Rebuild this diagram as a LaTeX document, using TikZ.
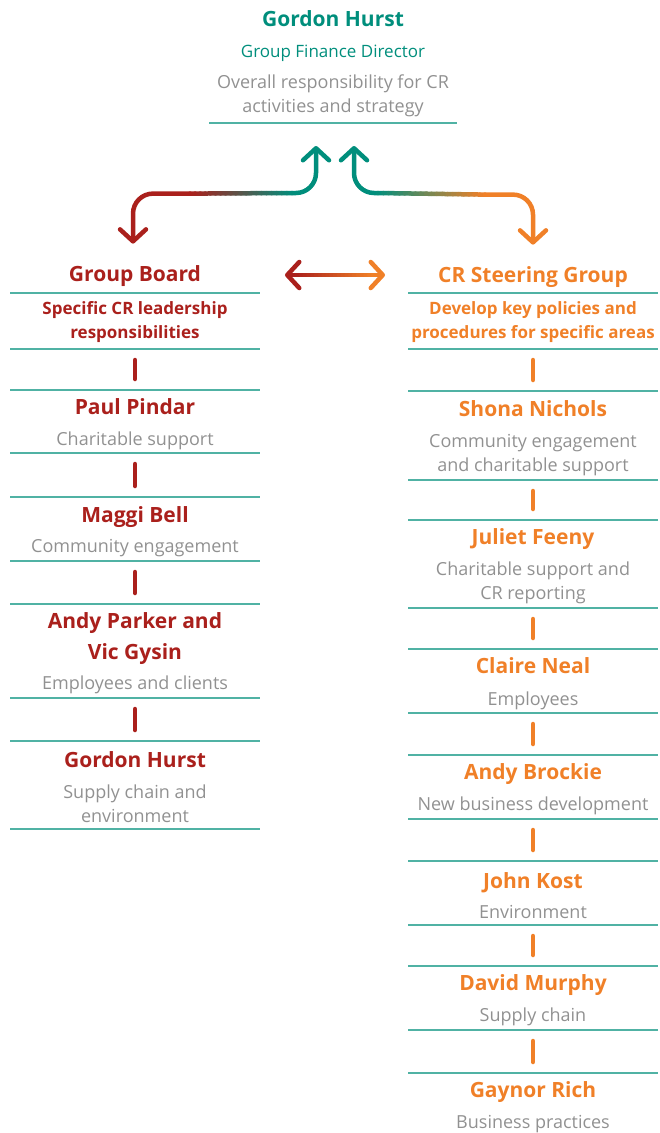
\documentclass[tikz,border=0pt]{standalone}
\usepackage{fontspec}
\setmainfont{Open Sans}
\usepackage{xcolor}
\usetikzlibrary{arrows.meta, positioning, calc}
\definecolor{crTeal}{RGB}{0,142,124}
\definecolor{crRed}{RGB}{170,32,28}
\definecolor{crOrange}{RGB}{240,128,40}
\definecolor{crGray}{RGB}{145,145,145}
\definecolor{ruleTeal}{RGB}{80,178,164}
\colorlet{hue}{crRed}
\newcommand\whofont{\fontsize{21}{26}\selectfont\bfseries}
\newcommand\whatfont{\fontsize{18}{24}\selectfont}
\newcommand\rolefont{\fontsize{17}{24}\selectfont\bfseries}
\newcommand\who[1]{{\whofont\color{hue}\rule{0pt}{20.5pt}#1}}
% gradient stroke: #1 -> #2, colour #3 -> #4
\newcommand\fadeline[4]{%
  \foreach \i in {0,...,19}{%
    \pgfmathtruncatemacro\p{5*\i+2}%
    \draw[flow, draw=#4!\p!#3] ($(#1)!{\i/20}!(#2)$) -- ($(#1)!{(\i+1)/20}!(#2)$);}}
\tikzset{
    chart/.style={x=1pt, y=-1pt, >={Straight Barb[length=12pt, width=26pt, round]}},
    panel/.style={inner sep=0pt, outer sep=0pt, minimum width=250pt, align=center, font=\whatfont, text=crGray},
    role/.style={panel, minimum height=56pt, font=\rolefont, text=hue},
    heading/.style={inner sep=0pt, font=\whofont, text=hue},
    sepline/.style={draw=ruleTeal, line width=1.3pt},
    tie/.style={line width=4.5pt, line cap=round, shorten <=11pt, shorten >=11pt},
    flow/.style={line width=4.5pt, line cap=round, rounded corners=20pt},
}
\begin{document}
\begin{tikzpicture}[chart]
    \useasboundingbox (0,0) rectangle (659,1133);

    \colorlet{hue}{crTeal}
    \node[panel, minimum width=248pt, minimum height=123pt] (top) at (333,61.5)
        {\who{Gordon Hurst}\\[7pt]{\fontsize{17}{24}\selectfont\color{crTeal}Group Finance Director}\\[7pt]Overall responsibility for CR\\activities and strategy};

    % group board
    \colorlet{hue}{crRed}
    \node[role] (gbRole) at (135,321) {\rule{0pt}{15pt}Specific CR leadership\\responsibilities};
    \node[heading, above=6pt of gbRole]                     (gb)  {Group Board};
    \node[panel, minimum height=63pt, below=41pt of gbRole] (pp)  {\who{Paul Pindar}\\[7pt]Charitable support};
    \node[panel, minimum height=64pt, below=44pt of pp]     (mb)  {\who{Maggi Bell}\\[6pt]Community engagement};
    \node[panel, minimum height=94pt, below=43pt of mb]     (ap)  {\who{Andy Parker and}\\[5pt]\who{Vic Gysin}\\[6pt]Employees and clients};
    \node[panel, minimum height=88pt, below=43pt of ap]     (gh)  {\who{Gordon Hurst}\\[7pt]Supply chain and\\environment};
    \foreach \a/\b in {gbRole/pp, pp/mb, mb/ap, ap/gh}
        \draw[tie, crRed] (\a) -- (\b);

    % steering group
    \colorlet{hue}{crOrange}
    \node[role] (sgRole) at (533,321) {\rule{0pt}{15pt}Develop key policies and\\procedures for specific areas};
    \node[heading, above=5pt of sgRole]                     (sg)  {CR Steering Group};
    \node[panel, minimum height=89pt, below=42pt of sgRole] (sn)  {\who{Shona Nichols}\\[7pt]Community engagement\\and charitable support};
    \node[panel, minimum height=88pt, below=40pt of sn]     (jf)  {\who{Juliet Feeny}\\[7pt]Charitable support and\\CR reporting};
    \node[panel, minimum height=64pt, below=41pt of jf]     (cn)  {\who{Claire Neal}\\[8pt]Employees};
    \node[panel, minimum height=64pt, below=42pt of cn]     (abr) {\who{Andy Brockie}\\[7pt]New business development};
    \node[panel, minimum height=64pt, below=42pt of abr]    (jk)  {\who{John Kost}\\[6pt]Environment};
    \node[panel, minimum height=64pt, below=41pt of jk]     (dm)  {\who{David Murphy}\\[7pt]Supply chain};
    \node[panel, minimum height=63pt, below=43pt of dm]     (gr)  {\who{Gaynor Rich}\\[7pt]Business practices};
    \foreach \a/\b in {sgRole/sn, sn/jf, jf/cn, cn/abr, abr/jk, jk/dm, dm/gr}
        \draw[tie, crOrange] (\a) -- (\b);

    % rules
    \draw[sepline] (top.south west) -- (top.south east);
    \foreach \n in {gbRole, pp, mb, ap, gh, sgRole, sn, jf, cn, abr, jk, dm}
        \draw[sepline] (\n.north west) -- (\n.north east) (\n.south west) -- (\n.south east);
    \draw[sepline] (gr.north west) -- (gr.north east);

    % top arrows
    \coordinate (upL) at ([xshift=-17pt, yshift=-23pt]top.south);
    \coordinate (upR) at ([xshift=21pt, yshift=-23pt]top.south);
    \coordinate (dnL) at ([xshift=-2pt, yshift=22pt]gb.north);
    \coordinate (dnR) at ([yshift=22pt]sg.north);
    \coordinate (lA) at ($(upL)+(-24,47)$);
    \coordinate (lB) at ($(dnL)+(57,-50)$);
    \coordinate (rA) at ($(upR)+(24,47)$);
    \coordinate (rB) at ($(dnR)+(-48,-50)$);
    \draw[flow, crTeal, <-] (upL) |- (lA);
    \fadeline{lA}{lB}{crTeal}{crRed}
    \draw[flow, crRed, ->] (lB) -| (dnL);
    \draw[flow, crTeal, <-] (upR) |- (rA);
    \fadeline{rA}{rB}{crTeal}{crOrange}
    \draw[flow, crOrange, ->] (rB) -| (dnR);

    % board <-> steering group
    \coordinate (mL) at (285,275);
    \coordinate (mR) at (385,275);
    \coordinate (mA) at ($(mL)!0.12!(mR)$);
    \coordinate (mB) at ($(mL)!0.88!(mR)$);
    \draw[flow, crRed, <-] (mL) -- (mA);
    \fadeline{mA}{mB}{crRed}{crOrange}
    \draw[flow, crOrange, ->] (mB) -- (mR);
\end{tikzpicture}
\end{document}
